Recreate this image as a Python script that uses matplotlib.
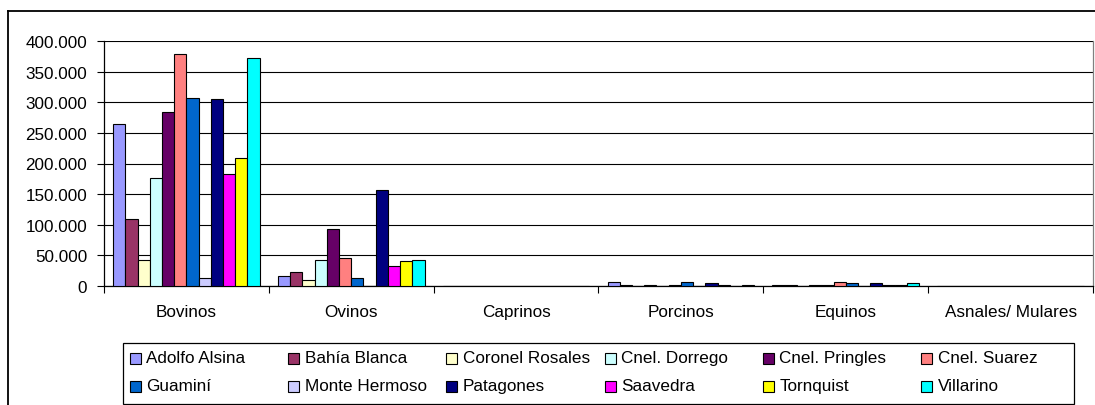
import matplotlib
matplotlib.use("Agg")
import matplotlib.pyplot as plt
import numpy as np
from matplotlib.patches import Rectangle
from matplotlib.lines import Line2D
from matplotlib.ticker import FuncFormatter, FixedLocator

plt.rcParams['font.family'] = ['Liberation Sans', 'DejaVu Sans']

# Livestock heads per district and species
categories = ["Bovinos", "Ovinos", "Caprinos", "Porcinos", "Equinos", "Asnales/ Mulares"]
districts = ["Adolfo Alsina", "Bahía Blanca", "Coronel Rosales", "Cnel. Dorrego",
             "Cnel. Pringles", "Cnel. Suarez", "Guaminí", "Monte Hermoso",
             "Patagones", "Saavedra", "Tornquist", "Villarino"]
colors = ["#9999FF", "#993366", "#FFFFCC", "#CCFFFF", "#660066", "#FF8080",
          "#0066CC", "#CCCCFF", "#000080", "#FF00FF", "#FFFF00", "#00FFFF"]

bovinos = [265000, 109000, 42000, 177000, 284000, 380000, 307000, 12000, 305000, 182000, 209000, 373000]
ovinos = [16000, 23000, 10000, 42000, 93000, 45000, 12000, 0, 156000, 33000, 40000, 42000]
caprinos = [0, 0, 0, 0, 0, 0, 0, 0, 0, 0, 0, 0]
porcinos = [6000, 1500, 0, 1500, 0, 1500, 6500, 0, 4500, 1500, 0, 1500]
equinos = [1500, 1500, 0, 1500, 1500, 6500, 4000, 0, 4000, 1500, 1500, 4000]
asnales = [0, 0, 0, 0, 0, 0, 0, 0, 0, 0, 0, 0]

yticks = [0, 50000, 100000, 150000, 200000, 250000, 300000, 350000, 400000]

FS = 12.3
W, H = 1095, 406
fig = plt.figure(figsize=(W / 100, H / 100), dpi=100)
fig.patch.set_facecolor("white")

# plot area in pixel terms
left, right, top, bottom = 104, 1093, 42.3, 286.7
ax = fig.add_axes([left / W, 1 - bottom / H, (right - left) / W, (bottom - top) / H])

values = np.array([bovinos, ovinos, caprinos, porcinos, equinos, asnales]).T  # district x category
n = len(districts)
bw = 1.0 / (n + 1.5)
x = np.arange(len(categories))
for i in range(n):
    offs = (i - n / 2 + 0.5) * bw
    ax.bar(x + offs, values[i], width=bw, color=colors[i], edgecolor="black",
           linewidth=0.8, zorder=3)

ax.set_xlim(-0.5, len(categories) - 0.5)
ax.set_ylim(0, 400000)
ax.set_yticks(yticks)
ax.yaxis.set_major_formatter(FuncFormatter(lambda v, p: f"{v:,.0f}".replace(",", ".")))
ax.grid(axis="y", color="black", linewidth=0.8, zorder=1)

ax.set_xticks(x)
ax.set_xticklabels(categories)
ax.xaxis.set_minor_locator(FixedLocator(np.arange(-0.5, len(categories), 1.0)))
ax.tick_params(axis="x", which="major", length=0, pad=13.5, labelsize=FS)
ax.tick_params(axis="x", which="minor", length=5, width=0.8, direction="out")
ax.tick_params(axis="y", length=5, width=0.8, direction="out", pad=7, labelsize=FS)

for s in ["left", "bottom"]:
    ax.spines[s].set_color("black")
    ax.spines[s].set_linewidth(0.9)
ax.spines["top"].set_visible(False)
ax.spines["right"].set_color("#808080")
ax.spines["right"].set_linewidth(0.9)

def px(xp, yp):
    return xp / W, 1 - yp / H

# outer chart border
fig.add_artist(Line2D([px(8, 0)[0], px(8, 0)[0]], [px(0, 12)[1], px(0, 420)[1]],
                      color="black", linewidth=1.3, transform=fig.transFigure))
fig.add_artist(Line2D([px(8, 0)[0], px(1100, 0)[0]], [px(0, 12)[1], px(0, 12)[1]],
                      color="black", linewidth=1.3, transform=fig.transFigure))

# legend box
lx0, ly0, lx1, ly1 = 123, 344, 1074, 405
fig.add_artist(Rectangle(px(lx0, ly1), (lx1 - lx0) / W, (ly1 - ly0) / H,
                         transform=fig.transFigure, facecolor="white",
                         edgecolor="black", linewidth=0.9))
col_x0, col_step = 130, 158.2
row_y0, row_step = 359, 28
msz = 11
for i, (name, c) in enumerate(zip(districts, colors)):
    col, row = i % 6, i // 6
    mx = col_x0 + col * col_step
    my = row_y0 + row * row_step
    fig.add_artist(Rectangle(px(mx, my + msz / 2), msz / W, msz / H,
                             transform=fig.transFigure, facecolor=c,
                             edgecolor="black", linewidth=0.8))
    fig.text(*px(mx + 16.5, my), name, fontsize=FS, va="center", ha="left")

fig.savefig("out.png", dpi=100)
